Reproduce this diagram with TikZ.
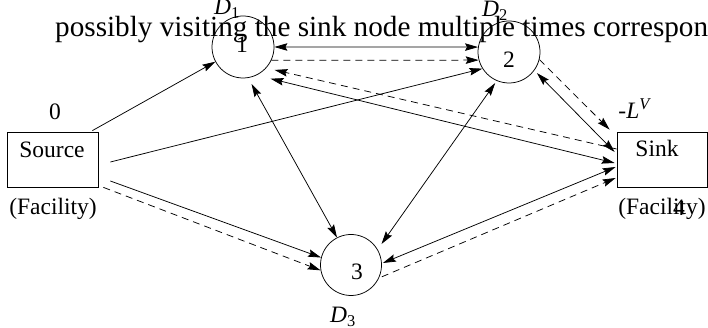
\documentclass[tikz,border=0pt]{standalone}
\usepackage{fontspec}
\setmainfont{Liberation Serif}
\usetikzlibrary{arrows.meta,calc}
\begin{document}
\begin{tikzpicture}[x=1pt,y=1pt,
  lbl/.style={font=\fontsize{23.5}{25}\selectfont, inner sep=0pt},
  circ/.style={circle, draw, line width=0.75pt, minimum size=62pt, inner sep=0pt},
  box/.style={draw, line width=0.75pt, minimum width=91pt, minimum height=55pt, inner sep=0pt},
  edge/.style={line width=0.75pt},
  tip/.style={-{Stealth[length=13pt,width=7.5pt,inset=2pt]}},
  bitip/.style={{Stealth[length=13pt,width=7.5pt,inset=2pt]}-{Stealth[length=13pt,width=7.5pt,inset=2pt]}},
  dsh/.style={dash pattern=on 7pt off 5pt}]
\useasboundingbox (0,0) rectangle (708,328);
\clip (0,0) rectangle (708,328);
% paragraph text
\node[font=\fontsize{29.2}{31}\selectfont, anchor=base west, inner sep=0pt] (para) at (55,291) {possibly visiting the sink node multiple times correspond};
% nodes
\node[circ] (n1) at (243,281) {};
\node[circ] (n2) at (509,276) {};
\node[circ, minimum size=61pt] (n3) at (351,63) {};
\node[box] (source) at (52.5,168.5) {};
\node[box, minimum width=90pt] (sink) at (662,168.5) {};
% labels
\node[lbl] (l1) at (242,283) {1};
\node[lbl] (l2) at (509,268) {2};
\node[lbl] (l3) at (357,56) {3};
\node[lbl] (d1) at (227,319) {\textit{D}\textsubscript{1}};
\node[lbl] (d2) at (495,317) {\textit{D}\textsubscript{2}};
\node[lbl] (d3) at (343,11) {\textit{D}\textsubscript{3}};
\node[lbl] (z0) at (55,216) {0};
\node[lbl] (lv) at (635,219) {-\textit{L}\textsuperscript{\textit{V}}};
\node[lbl] (srct) at (52,178) {Source};
\node[lbl] (sinkt) at (657,180) {Sink};
\node[lbl] (fac1) at (53,119) {(Facility)};
\node[lbl] (fac2) at (662,119) {(Facility)};
\node[lbl] (four) at (679,120) {4};
% edges
\draw[edge,tip] ($(source.north east)+(-6,1)$) -- (n1.208);
\draw[edge,tip] ($(source.east)+(12,-2.5)$) -- (n2.212);
\draw[edge,tip] ($(source.east)+(12,-21.5)$) -- (n3.166);
\draw[edge,tip,dsh] ($(source.south east)+(5,0)$) -- (n3.190);
\draw[edge,bitip] (n1.east) -- (n2.171);
\draw[edge,tip,dsh] (n1.-25) -- (n2.195);
\draw[edge,tip,dsh] ($(sink.west)+(0,10.5)$) -- ($(n1)+(-36:39)$);
\draw[edge,bitip] ($(n1)+(-49:42)$) -- ($(sink.west)+(-2,-3.5)$);
\draw[edge,bitip] ($(n1)+(-77:38)$) -- (n3.117);
\draw[edge,bitip] ($(n2)+(246:34)$) -- ($(n3)+(34.5:37)$);
\draw[edge,bitip] ($(n2)+(-37:35)$) -- ($(sink.west)+(-2,7.5)$);
\draw[edge,tip,dsh] (n2.-14) -- ($(sink.north west)+(-7,2)$);
\draw[edge,bitip] ($(n3)+(3.6:32)$) -- ($(sink.west)+(-1,-7.5)$);
\draw[edge,tip,dsh] ($(n3)+(-21:33)$) -- ($(sink.west)+(-1,-18.5)$);
\end{tikzpicture}
\end{document}
